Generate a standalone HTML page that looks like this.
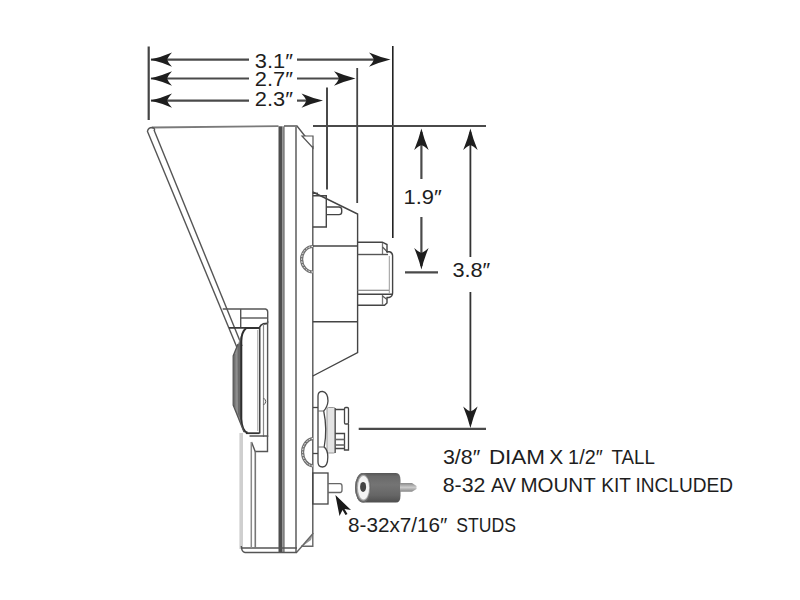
<!DOCTYPE html>
<html><head><meta charset="utf-8"><style>
html,body{margin:0;padding:0;background:#fff;width:800px;height:600px;overflow:hidden}
svg{position:absolute;left:0;top:0}
text{font-family:"Liberation Sans",sans-serif;fill:#1e1e1e}
</style></head><body>
<svg width="800" height="600" viewBox="0 0 800 600">
<defs>

<linearGradient id="cyl" x1="0" y1="0" x2="0" y2="1">
 <stop offset="0" stop-color="#555"/><stop offset="0.12" stop-color="#6a6a6a"/><stop offset="0.4" stop-color="#747474"/>
 <stop offset="0.75" stop-color="#666"/><stop offset="1" stop-color="#4e4e4e"/>
</linearGradient>
<linearGradient id="pin" x1="0" y1="0" x2="0" y2="1">
 <stop offset="0" stop-color="#888"/><stop offset="0.5" stop-color="#ccc"/><stop offset="1" stop-color="#888"/>
</linearGradient>
</defs>
<!-- ===== DIMENSIONS TOP ===== -->
<g fill="none">
 <line x1="148.7" y1="46.5" x2="148.7" y2="120" stroke-width="2.2" stroke="#444"/>
 <line x1="392.8" y1="46" x2="392.8" y2="238" stroke-width="1.6" stroke="#222"/>
 <line x1="357.2" y1="68" x2="357.2" y2="203" stroke-width="1.8" stroke="#444"/>
 <line x1="327" y1="87.5" x2="327" y2="189.5" stroke-width="2" stroke="#4a4a4a"/>
 <line x1="151" y1="59.6" x2="249" y2="59.6" stroke-width="2.2" stroke="#4a4a4a"/>
 <line x1="297" y1="59.6" x2="385" y2="59.6" stroke-width="2.2" stroke="#4a4a4a"/>
 <line x1="151" y1="78.5" x2="249" y2="78.5" stroke-width="2" stroke="#4a4a4a"/>
 <line x1="297" y1="78.5" x2="350" y2="78.5" stroke-width="2" stroke="#4a4a4a"/>
 <line x1="151" y1="100.6" x2="249" y2="100.6" stroke-width="2.2" stroke="#4a4a4a"/>
 <line x1="297" y1="100.6" x2="318" y2="100.6" stroke-width="2.2" stroke="#4a4a4a"/>
</g>
<path d="M0.5 0 Q-10 -2.6 -21 -7.2 Q-17 -3 -16 0 Q-17 3 -21 7.2 Q-10 2.6 0.5 0 Z" fill="#1e1e1e" transform="translate(151,59.6) rotate(180)"/>
<path d="M0.5 0 Q-10 -2.6 -21 -7.2 Q-17 -3 -16 0 Q-17 3 -21 7.2 Q-10 2.6 0.5 0 Z" fill="#1e1e1e" transform="translate(151,78.5) rotate(180)"/>
<path d="M0.5 0 Q-10 -2.6 -21 -7.2 Q-17 -3 -16 0 Q-17 3 -21 7.2 Q-10 2.6 0.5 0 Z" fill="#1e1e1e" transform="translate(151,100.6) rotate(180)"/>
<path d="M0.5 0 Q-10 -2.6 -21 -7.2 Q-17 -3 -16 0 Q-17 3 -21 7.2 Q-10 2.6 0.5 0 Z" fill="#1e1e1e" transform="translate(390,59.6)"/>
<path d="M0.5 0 Q-10 -2.6 -21 -7.2 Q-17 -3 -16 0 Q-17 3 -21 7.2 Q-10 2.6 0.5 0 Z" fill="#1e1e1e" transform="translate(355,78.5)"/>
<path d="M0.5 0 Q-10 -2.6 -21 -7.2 Q-17 -3 -16 0 Q-17 3 -21 7.2 Q-10 2.6 0.5 0 Z" fill="#1e1e1e" transform="translate(322.5,100.6)"/>

<!-- ===== DIMENSIONS RIGHT ===== -->
<g fill="none">
 <line x1="313" y1="126" x2="486" y2="126" stroke-width="2.2" stroke="#4a4a4a"/>
 <line x1="421.4" y1="132" x2="421.4" y2="179" stroke-width="2.2" stroke="#4a4a4a"/>
 <line x1="421.4" y1="217" x2="421.4" y2="266" stroke-width="2.2" stroke="#4a4a4a"/>
 <line x1="405" y1="272.4" x2="438" y2="272.4" stroke-width="2.2" stroke="#4a4a4a"/>
 <line x1="470.4" y1="132" x2="470.4" y2="257" stroke-width="1.8" stroke="#333"/>
 <line x1="470.4" y1="292" x2="470.4" y2="424" stroke-width="1.8" stroke="#333"/>
 <line x1="358.7" y1="428.8" x2="486" y2="428.8" stroke-width="2.2" stroke="#4a4a4a"/>
</g>
<path d="M0.5 0 Q-10 -2.6 -21 -7.2 Q-17 -3 -16 0 Q-17 3 -21 7.2 Q-10 2.6 0.5 0 Z" fill="#1e1e1e" transform="translate(421.4,129) rotate(-90)"/>
<path d="M0.5 0 Q-10 -2.6 -21 -7.2 Q-17 -3 -16 0 Q-17 3 -21 7.2 Q-10 2.6 0.5 0 Z" fill="#1e1e1e" transform="translate(470.4,129) rotate(-90)"/>
<path d="M0.5 0 Q-10 -2.6 -21 -7.2 Q-17 -3 -16 0 Q-17 3 -21 7.2 Q-10 2.6 0.5 0 Z" fill="#1e1e1e" transform="translate(421.4,269) rotate(90)"/>
<path d="M0.5 0 Q-10 -2.6 -21 -7.2 Q-17 -3 -16 0 Q-17 3 -21 7.2 Q-10 2.6 0.5 0 Z" fill="#1e1e1e" transform="translate(470.4,427.5) rotate(90)"/>

<!-- ===== HOUSING ===== -->
<g fill="none" stroke="#555" stroke-width="1.4">
 <!-- hood -->
 <path d="M152 127.5 Q200 126.8 278.5 126.2" stroke="#7a7a7a" stroke-width="1.8"/>
 <path d="M147.5 131 Q148.5 127.5 152 127.5 Q155 128 154.5 130.5" />
 <line x1="147.3" y1="131" x2="238" y2="350"/>
 <line x1="154" y1="130" x2="242" y2="346"/>
 <!-- panel -->
 <rect x="278.5" y="126.3" width="3.8" height="426" fill="#4e4e4e" stroke="none"/>
 <rect x="282.3" y="126.3" width="2.4" height="426" fill="#808080" stroke="none"/>
 <line x1="296" y1="127" x2="296" y2="552" stroke="#666" stroke-width="1.6"/>
 <line x1="312.8" y1="146" x2="312.8" y2="534"/>
 <path d="M284 126 L297 126 L312.8 146"/>
 <path d="M302 136 L313 136 L313 148 Z" fill="#fff" stroke-width="1.2"/>
 <path d="M297.5 551 L312.5 535 L311 540 L302.5 546.3 Z" fill="#9a9a9a" stroke="none"/>
 <path d="M296.5 552.5 L312.8 533.7" stroke="#666"/>
 <path d="M312.8 533 L312.8 546.3 L301 546.3" stroke="#666"/>
 <line x1="241.2" y1="433" x2="241.2" y2="549" stroke="#cfcfcf" stroke-width="3.6"/>
 <path d="M241.3 546 Q241.5 552 245 552.5 L297 552.5"/>
 <line x1="241.5" y1="548" x2="297" y2="548"/>

</g>
<!-- rear body -->
<g fill="none" stroke="#444" stroke-width="1.4">
 <path d="M312.8 192 L357.6 214 L357.6 352.5 L312.8 376"/>
 <path d="M312.8 193.3 L318 193.3"/>
 <path d="M312.8 195.8 L326.3 195.8 L326.3 227 L312.8 227"/>
 <path d="M326.3 207 L339 207 Q341.7 207 341.7 210 L341.7 212 Q341.7 214.6 339 214.6 L326.3 214.6"/>
 <line x1="312.8" y1="246" x2="357.6" y2="246"/>
 <line x1="312.8" y1="321.7" x2="357.6" y2="321.7"/>
 <path d="M313 246.5 A11.4 12.75 0 0 0 313 272" stroke-width="3.2" stroke="#707070"/>
 <path d="M313 246.5 A11.4 12.75 0 0 0 313 272" stroke-width="1" stroke="#fff" stroke-dasharray="1.6 1.4"/>
 <!-- connector -->
 <path d="M357.6 242.2 L382.3 242.2 L387 244.5 L387 251.5"/>
 <line x1="382.5" y1="243" x2="382.5" y2="254" stroke="#777" stroke-width="1.3"/>
 <path d="M382.5 247 L388 252.5" stroke="#555" stroke-width="1.2"/>
 <path d="M357.6 254.5 L388 254.5" stroke="#555"/>
 <path d="M386 251.8 L389.5 251.8 Q392.6 252.5 392.6 256 L392.6 293 Q392.6 296.5 389 297.5 L386.5 297.5"/>
 <line x1="389.3" y1="256" x2="389.3" y2="293" stroke="#999" stroke-width="1"/>
 <line x1="357.6" y1="290.3" x2="389" y2="290.3" stroke="#888" stroke-width="1.2"/>
 <line x1="357.6" y1="294.2" x2="392" y2="294.2"/>
 <path d="M387 297.5 L387 303 L384.5 305.3 L357.6 305.3"/>
 <line x1="382.5" y1="295" x2="382.5" y2="305" stroke="#777" stroke-width="1.3"/>
 <path d="M382.5 296 L387 299.5" stroke="#555" stroke-width="1.2"/>
</g>
<!-- lower body / grommet -->
<g fill="none" stroke="#444" stroke-width="1.3">
 <rect x="327" y="407.5" width="8.2" height="45.5" rx="1.5" fill="#e4e4e4" stroke="#999" stroke-width="1"/>
 <line x1="335.2" y1="408" x2="335.2" y2="453" stroke="#555" stroke-width="1.3"/>
 <path d="M313 407.5 L318 407.5"/>
 <path d="M313 453.5 L318 453.5"/>
 <path d="M318 396 Q318 391.4 322.5 391.4 Q328 392.5 328 401 Q327.5 407 323.7 411 Q327.5 429 324.2 447 Q327.8 450 327.8 457 Q327.8 467 322.5 467 Q318 467 318 462 Z" fill="#fff" stroke="#444" stroke-width="1.3"/>
 <path d="M318 411 L323.7 411 M318 447 L324.2 447" stroke="#666" stroke-width="1"/>
 <path d="M335.2 409.5 L344.5 409.5 M335.2 448.5 L344.5 448.5"/>
 <rect x="344.5" y="407.5" width="4" height="16.5" rx="1.2"/>
 <path d="M348.5 424 L348.5 450 L344.5 450 L344.5 433.5 L335.2 433.5"/>
 <line x1="336" y1="439.5" x2="344.5" y2="439.5" stroke="#666" stroke-width="1.6"/>
 <line x1="336" y1="445" x2="344.5" y2="445" stroke="#666" stroke-width="1.6"/>
 <path d="M313 438.5 A11.4 13.8 0 0 0 313 466" stroke-width="3.2" stroke="#707070"/>
 <path d="M313 438.5 A11.4 13.8 0 0 0 313 466" stroke-width="1" stroke="#fff" stroke-dasharray="1.6 1.4"/>
 <!-- stud -->
 <rect x="312.8" y="473" width="15.2" height="31"/>
 <path d="M328 483.7 L340 483.7 Q342 483.7 342 486 L342 490 Q342 492.5 340 492.5 L328 492.5" stroke="#666"/>
</g>
<!-- bracket + lens -->
<g fill="none" stroke="#555" stroke-width="1.4">
 <path d="M222.7 309 L265.5 309 Q267.7 309.5 267.7 312 L267.7 323.3"/>
 <line x1="240.7" y1="318" x2="267" y2="318"/>
 <line x1="240.7" y1="309" x2="240.7" y2="327"/>
 <path d="M229 327.8 L259.3 327.8 Q261 324.5 263 324 L267.7 323.3" stroke="#3a3a3a" stroke-width="1.8"/>
 <line x1="259.7" y1="328" x2="259.7" y2="433.5" stroke="#444" stroke-width="1.6"/>
 <line x1="257.7" y1="330" x2="257.7" y2="431" stroke="#aaa" stroke-width="1"/>
 <line x1="263.5" y1="324" x2="263.5" y2="437" stroke="#888" stroke-width="1.2"/>
 <line x1="267.6" y1="321" x2="267.6" y2="437"/>
 <path d="M263.5 398 Q268 401.5 263.5 405" stroke-width="1"/>
 <path d="M259.5 433.2 L245.8 433.2" stroke="#333" stroke-width="1.8"/>
 <path d="M251.5 442 L255.2 451.5 L267.5 451.5 L267.5 436 L249.5 436"/>
 <line x1="255.3" y1="451.5" x2="255.3" y2="548" stroke="#777" stroke-width="1.6"/>
 <line x1="251.3" y1="442" x2="251.3" y2="548" stroke="#8a8a8a" stroke-width="1.5"/>
</g>
<path d="M243 330 L241.3 340 L241.3 418 Q242 430 247 432.5 L244 432.5 L233.2 405 L233.2 356 L238 344 Z" fill="#8e8e8e"/>
<path d="M237.5 346 L241 340 L241 420 L238 414 Z" fill="#6a6a6a"/>
<path d="M246 328.2 Q241.5 332 241.3 341 L241.3 419 Q242 431 247.5 432.8" fill="none" stroke="#2e2e2e" stroke-width="2"/>
<path d="M245 328 L259.5 328" fill="none" stroke="#333" stroke-width="2"/>
<path d="M238 344 L233.2 356 L233.2 405 L244 432" fill="none" stroke="#555" stroke-width="1.3"/>
<line x1="234.8" y1="354" x2="234.8" y2="408" stroke="#666" stroke-width="1"/>

<!-- standoff -->
<path d="M363 472.9 L396 472.9 Q400.5 473 400.5 480 L400.5 495.5 Q400.5 502.6 396 502.6 L363 502.6 A8 14.85 0 0 1 363 472.9 Z" fill="url(#cyl)"/>
<ellipse cx="363" cy="487.7" rx="8" ry="14.8" fill="#6a6a6a"/>
<ellipse cx="363.3" cy="487.7" rx="6.6" ry="13" fill="#a8a8a8"/>
<ellipse cx="363.5" cy="487.7" rx="5.6" ry="11.8" fill="#f4f4f4"/>
<ellipse cx="363.1" cy="486.9" rx="3" ry="5" fill="#444"/>
<path d="M400 483 L412 483 L416.5 486 L416.5 489 L412 491.7 L400 491.7 Z" fill="url(#pin)"/>

<!-- pointer arrow -->
<path d="M335.4 495 L351 510 L344.5 509 L347.5 514 L345.5 515 L342.5 510 L339.5 516 Z" fill="#1a1a1a"/>

<!-- ===== TEXT ===== -->
<!--TEXT-->
<text x="442.90" y="463.6" font-size="20.3" textLength="37.40" lengthAdjust="spacingAndGlyphs">3/8″</text>
<text x="488.90" y="463.6" font-size="20.3" textLength="56.20" lengthAdjust="spacingAndGlyphs">DIAM</text>
<text x="549.20" y="463.6" font-size="20.3" textLength="14.00" lengthAdjust="spacingAndGlyphs">X</text>
<text x="568.10" y="463.6" font-size="20.3" textLength="34.60" lengthAdjust="spacingAndGlyphs">1/2″</text>
<text x="611.50" y="463.6" font-size="20.3" textLength="43.40" lengthAdjust="spacingAndGlyphs">TALL</text>
<text x="442.75" y="491.5" font-size="20.3" textLength="42.65" lengthAdjust="spacingAndGlyphs">8-32</text>
<text x="491.00" y="491.5" font-size="20.3" textLength="25.00" lengthAdjust="spacingAndGlyphs">AV</text>
<text x="520.50" y="491.5" font-size="20.3" textLength="75.20" lengthAdjust="spacingAndGlyphs">MOUNT</text>
<text x="601.20" y="491.5" font-size="20.3" textLength="29.80" lengthAdjust="spacingAndGlyphs">KIT</text>
<text x="635.50" y="491.5" font-size="20.3" textLength="97.50" lengthAdjust="spacingAndGlyphs">INCLUDED</text>
<text x="348.00" y="532.3" font-size="20.3" textLength="99.30" lengthAdjust="spacingAndGlyphs">8-32x7/16″</text>
<text x="456.20" y="532.3" font-size="20.3" textLength="59.70" lengthAdjust="spacingAndGlyphs">STUDS</text>
<text x="254.80" y="67.8" font-size="19.5" textLength="38.10" lengthAdjust="spacingAndGlyphs">3.1″</text>
<text x="254.80" y="86.3" font-size="19.5" textLength="38.10" lengthAdjust="spacingAndGlyphs">2.7″</text>
<text x="254.80" y="106.3" font-size="19.5" textLength="38.10" lengthAdjust="spacingAndGlyphs">2.3″</text>
<text x="403.50" y="203.9" font-size="19.5" textLength="38.20" lengthAdjust="spacingAndGlyphs">1.9″</text>
<text x="452.40" y="277.3" font-size="19.5" textLength="37.90" lengthAdjust="spacingAndGlyphs">3.8″</text>
<!--/TEXT-->
</svg>
</body></html>
